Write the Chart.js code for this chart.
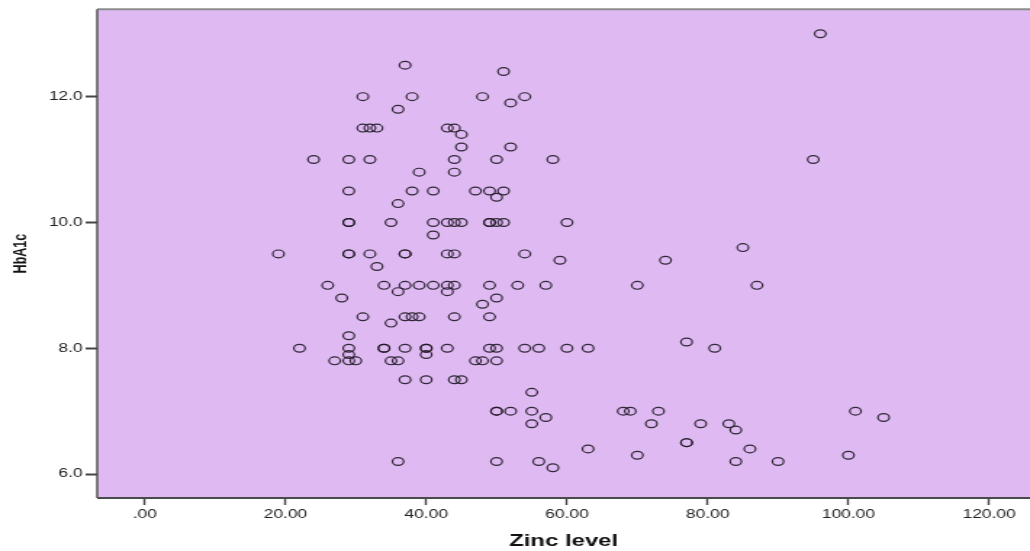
<!DOCTYPE html>
<html>
<head>
<meta charset="utf-8">
<script src="https://cdn.jsdelivr.net/npm/chart.js@4.4.1/dist/chart.umd.min.js"></script>
<style>
  html, body { margin: 0; padding: 0; background: #fff; overflow: hidden; }
  /* the original export is stretched sideways, so draw narrow and widen */
  #wrap { width: 710px; height: 551px; transform: scaleX(1.450704); transform-origin: 0 0; }
  canvas { display: block; }
</style>
</head>
<body>
<div id="wrap"><canvas id="scatter" width="710" height="551"></canvas></div>
<script>
// Zinc level (x) and HbA1c (y), one entry per patient
const zincLevel = [
  96, 37, 51, 31, 38, 48, 54, 52, 36,
  31, 32, 33, 43, 44, 45, 45, 52,
  24, 29, 32, 44, 50, 58, 95, 39, 44,
  29, 38, 41, 47, 49, 51, 50, 36,
  29, 29, 35, 41, 43, 44, 45, 49, 49, 50, 51, 60,
  41, 85, 19, 29, 29, 32, 37, 37, 43, 44, 54, 59, 74, 33,
  26, 34, 37, 39, 41, 43, 44, 49, 53, 57, 70, 87,
  36, 43, 28, 50, 48,
  31, 37, 38, 39, 44, 49, 35, 29, 77,
  22, 29, 34, 34, 37, 40, 40, 43, 49, 50, 54, 56, 60, 63, 81,
  29, 40, 27, 29, 30, 35, 36, 47, 48, 50,
  37, 40, 44, 45, 55,
  50, 50, 52, 55, 68, 69, 73, 101, 57, 105,
  55, 72, 79, 83, 84, 77, 77, 63, 86, 70, 100,
  36, 50, 56, 84, 90, 58
];
const hba1c = [
  13.0, 12.5, 12.4, 12.0, 12.0, 12.0, 12.0, 11.9, 11.8,
  11.5, 11.5, 11.5, 11.5, 11.5, 11.4, 11.2, 11.2,
  11.0, 11.0, 11.0, 11.0, 11.0, 11.0, 11.0, 10.8, 10.8,
  10.5, 10.5, 10.5, 10.5, 10.5, 10.5, 10.4, 10.3,
  10.0, 10.0, 10.0, 10.0, 10.0, 10.0, 10.0, 10.0, 10.0, 10.0, 10.0, 10.0,
  9.8, 9.6, 9.5, 9.5, 9.5, 9.5, 9.5, 9.5, 9.5, 9.5, 9.5, 9.4, 9.4, 9.3,
  9.0, 9.0, 9.0, 9.0, 9.0, 9.0, 9.0, 9.0, 9.0, 9.0, 9.0, 9.0,
  8.9, 8.9, 8.8, 8.8, 8.7,
  8.5, 8.5, 8.5, 8.5, 8.5, 8.5, 8.4, 8.2, 8.1,
  8.0, 8.0, 8.0, 8.0, 8.0, 8.0, 8.0, 8.0, 8.0, 8.0, 8.0, 8.0, 8.0, 8.0, 8.0,
  7.9, 7.9, 7.8, 7.8, 7.8, 7.8, 7.8, 7.8, 7.8, 7.8,
  7.5, 7.5, 7.5, 7.5, 7.3,
  7.0, 7.0, 7.0, 7.0, 7.0, 7.0, 7.0, 7.0, 6.9, 6.9,
  6.8, 6.8, 6.8, 6.8, 6.7, 6.5, 6.5, 6.4, 6.4, 6.3, 6.3,
  6.2, 6.2, 6.2, 6.2, 6.2, 6.1
];
const xTicks = [0, 20, 40, 60, 80, 100, 120];
const yTicks = [6, 8, 10, 12];

const plotFrame = {
  id: 'plotFrame',
  beforeDatasetsDraw(chart) {
    const { ctx, chartArea: a } = chart;
    ctx.save();
    ctx.fillStyle = '#dfb9f2';
    ctx.fillRect(a.left, a.top, a.right - a.left, a.bottom - a.top);
    // top edge is a light grey rule
    ctx.strokeStyle = '#8c8c8c';
    ctx.lineWidth = 2;
    ctx.beginPath();
    ctx.moveTo(a.left, a.top);
    ctx.lineTo(a.right, a.top);
    ctx.stroke();
    // axes lines
    ctx.strokeStyle = '#4a4a4a';
    ctx.beginPath();
    ctx.moveTo(a.left, a.bottom);
    ctx.lineTo(a.right, a.bottom);
    ctx.stroke();
    ctx.lineWidth = 1.4;
    ctx.beginPath();
    ctx.moveTo(a.left, a.top);
    ctx.lineTo(a.left, a.bottom);
    ctx.stroke();
    ctx.restore();
  }
};

const points = zincLevel.map((z, i) => ({ x: z, y: hba1c[i] }));

new Chart(document.getElementById('scatter'), {
  type: 'scatter',
  data: {
    datasets: [{
      data: points,
      pointStyle: 'circle',
      pointRadius: 3.9,
      pointHoverRadius: 3.9,
      borderWidth: 1.2,
      borderColor: 'rgba(30,24,36,0.9)',
      backgroundColor: 'rgba(0,0,0,0)'
    }]
  },
  options: {
    responsive: false,
    animation: false,
    layout: { autoPadding: false, padding: { top: 7, right: 0, left: 0, bottom: 0 } },
    plugins: { legend: { display: false }, tooltip: { enabled: false } },
    scales: {
      x: {
        type: 'linear',
        min: -6.75,
        max: 125.8,
        afterBuildTicks: s => { s.ticks = xTicks.map(v => ({ value: v })); },
        afterFit: s => { s.height = 53; s.paddingLeft = 0; s.paddingRight = 0; },
        border: { display: false },
        grid: { drawOnChartArea: false, tickLength: 7, tickWidth: 1.4, tickColor: '#444' },
        ticks: {
          color: '#222',
          font: { family: 'Liberation Sans', size: 12 },
          padding: 2,
          maxRotation: 0,
          callback: v => (v === 0 ? '.00' : v.toFixed(2))
        },
        title: {
          display: true,
          text: 'Zinc level',
          color: '#111',
          font: { family: 'Liberation Sans', size: 16.5, weight: 'bold' },
          padding: { top: 2, bottom: 0 }
        }
      },
      y: {
        type: 'linear',
        min: 5.62,
        max: 13.39,
        afterBuildTicks: s => { s.ticks = yTicks.map(v => ({ value: v })); },
        afterFit: s => { s.width = 67; },
        border: { display: false },
        grid: { drawOnChartArea: false, tickLength: 8, tickWidth: 2, tickColor: '#444' },
        ticks: {
          color: '#222',
          font: { family: 'Liberation Sans', size: 12 },
          padding: 2,
          callback: v => v.toFixed(1)
        },
        title: {
          display: true,
          text: 'HbA1c',
          color: '#111',
          font: { family: 'Liberation Sans', size: 12.5, weight: 'bold' },
          padding: { top: 7, bottom: 0 }
        }
      }
    }
  },
  plugins: [plotFrame]
});
</script>
</body>
</html>
